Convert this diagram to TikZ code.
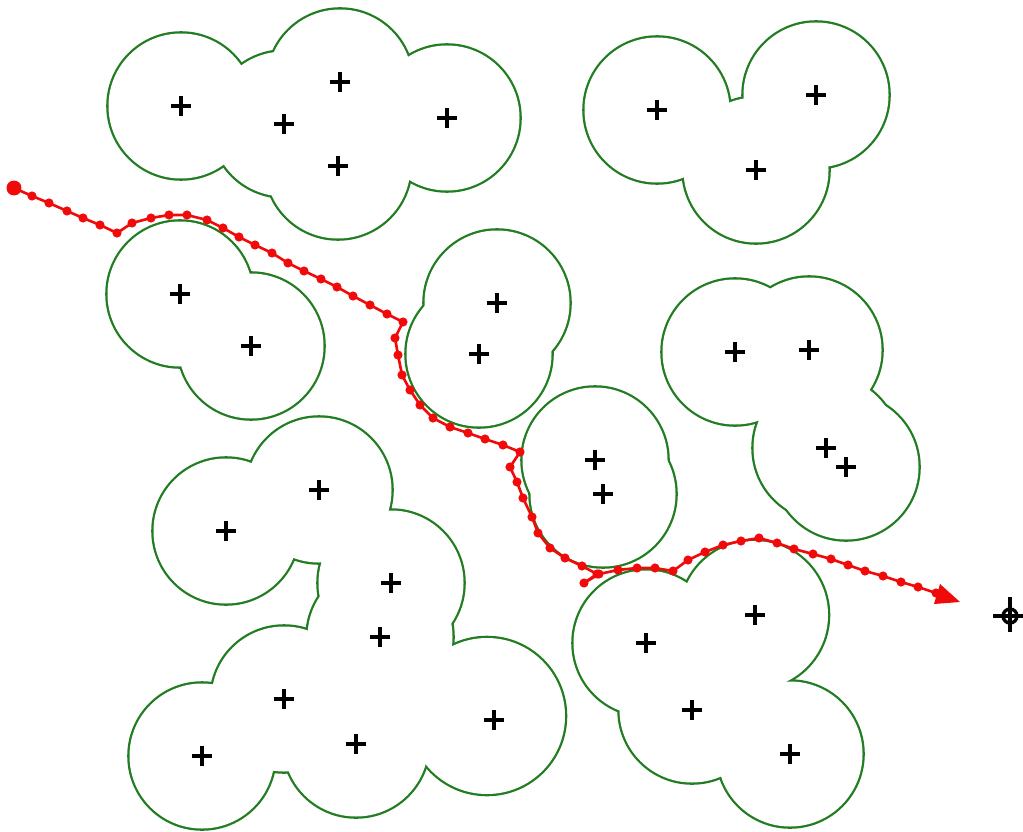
\documentclass[tikz,border=0pt]{standalone}
\definecolor{zonegreen}{RGB}{34,125,34}
\definecolor{pathred}{RGB}{240,10,10}
\tikzset{
  zoneline/.style={draw=zonegreen, line width=2.6pt},
  zonefill/.style={fill=white},
  plusmark/.style={line width=2.1pt, black},
  route/.style={draw=pathred, line width=1.5pt},
}
\begin{document}
\begin{tikzpicture}[x=0.02cm,y=-0.02cm]
\useasboundingbox (0,0) rectangle (1023,831);
% centres of the circles (plus marks)
\foreach \n/\px/\py in {
  a1/181/106, a2/284/124, a3/340/82, a4/338/166, a5/447/118,
  b1/657/110, b2/816/95, b3/756/170,
  c1/180/294, c2/251/346,
  d1/497/303, d2/479/354,
  e1/595/460, e2/603/494,
  f1/735/352, f2/809/350, f3/826/448, f4/846/467,
  g1/319/490, g2/226/531, g3/391/583, g4/380/637, g5/284/699, g6/202/756, g7/356/744, g8/494/720,
  h1/755/615, h2/646/643, h3/692/710, h4/790/754}
  {\coordinate (\n) at (\px,\py);}
% circles of the zones: centre / radius (px)
\def\zonelist{181/106/72.5, 284/124/72.5, 340/82/72.5, 338/166/72.5, 447/118/72.5,
  657/110/72.5, 816/95/72.5, 756/170/72.5,
  180/294/72.5, 251/346/72.5,
  497/303/72.5, 479/354/72.5,
  595/460/72.5, 603/494/72.5,
  735/352/72.5, 809/350/72.5, 826/448/72.5, 846/467/72.5,
  319/490/72.5, 226/531/72.5, 391/583/72.5, 380/637/72.5, 284/699/72.5, 202/756/72.5, 356/744/72.5, 487/716/78,
  754/615/74, 646/643/72.5, 692/710/72.5, 790/754/72.5}
% green outlines of the unions of circles (outer band only)
\foreach \px/\py/\r in \zonelist
  {\path[zoneline] (\px,\py) circle[radius={\r*0.02cm}];}
\foreach \px/\py/\r in \zonelist
  {\path[zonefill] (\px,\py) circle[radius={\r*0.02cm}];}
% plus marks
\foreach \n in {a1,a2,a3,a4,a5,b1,b2,b3,c1,c2,d1,d2,e1,e2,f1,f2,f3,f4,g1,g2,g3,g4,g5,g6,g7,g8,h1,h2,h3,h4}
  {\draw[plusmark] ([xshift=-0.2cm]\n) -- ([xshift=0.2cm]\n)
                   ([yshift=-0.2cm]\n) -- ([yshift=0.2cm]\n);}
% start and goal
\coordinate (start) at (14,188);
\coordinate (goal) at (1010,616);
\fill[pathred] (start) circle[radius=0.15cm];
\draw[line width=1.9pt] (goal) circle[radius=0.14cm];
\draw[line width=1.9pt] ([xshift=-0.34cm]goal) -- ([xshift=0.26cm]goal)
                        ([yshift=-0.32cm]goal) -- ([yshift=0.38cm]goal);
% red route
\draw[route] plot[mark=*, mark size=1.8pt, mark options={fill=pathred, draw=pathred}] coordinates {
  (14,188) (32,196) (49,203) (67,211) (83,218) (100,225) (117,233)
  (132,223) (151,218) (169,215) (187,215) (207,220) (223,228) (239,237)
  (255,245) (272,253) (288,263) (304,271) (321,279) (337,287) (353,296)
  (370,305) (387,314) (403,322)
  (395,338) (398,355) (402,375) (410,390) (420,405) (433,418) (450,427)
  (468,433) (485,439) (503,445) (520,452)
  (510,467) (517,482) (523,498) (532,517) (538,533) (550,548) (565,558)
  (582,566) (597,574) (584,583) (599,574)
  (618,570) (637,568) (655,568) (673,571) (688,560) (705,552) (723,545)
  (741,541) (759,538) (777,543) (794,549) (813,554) (831,559) (848,565)
  (865,571) (883,576) (901,582) (918,587) (936,593)};
\coordinate (tip) at (960,602);
\fill[pathred] (940,584) -- (tip) -- (934,604) -- cycle;
\end{tikzpicture}
\end{document}
